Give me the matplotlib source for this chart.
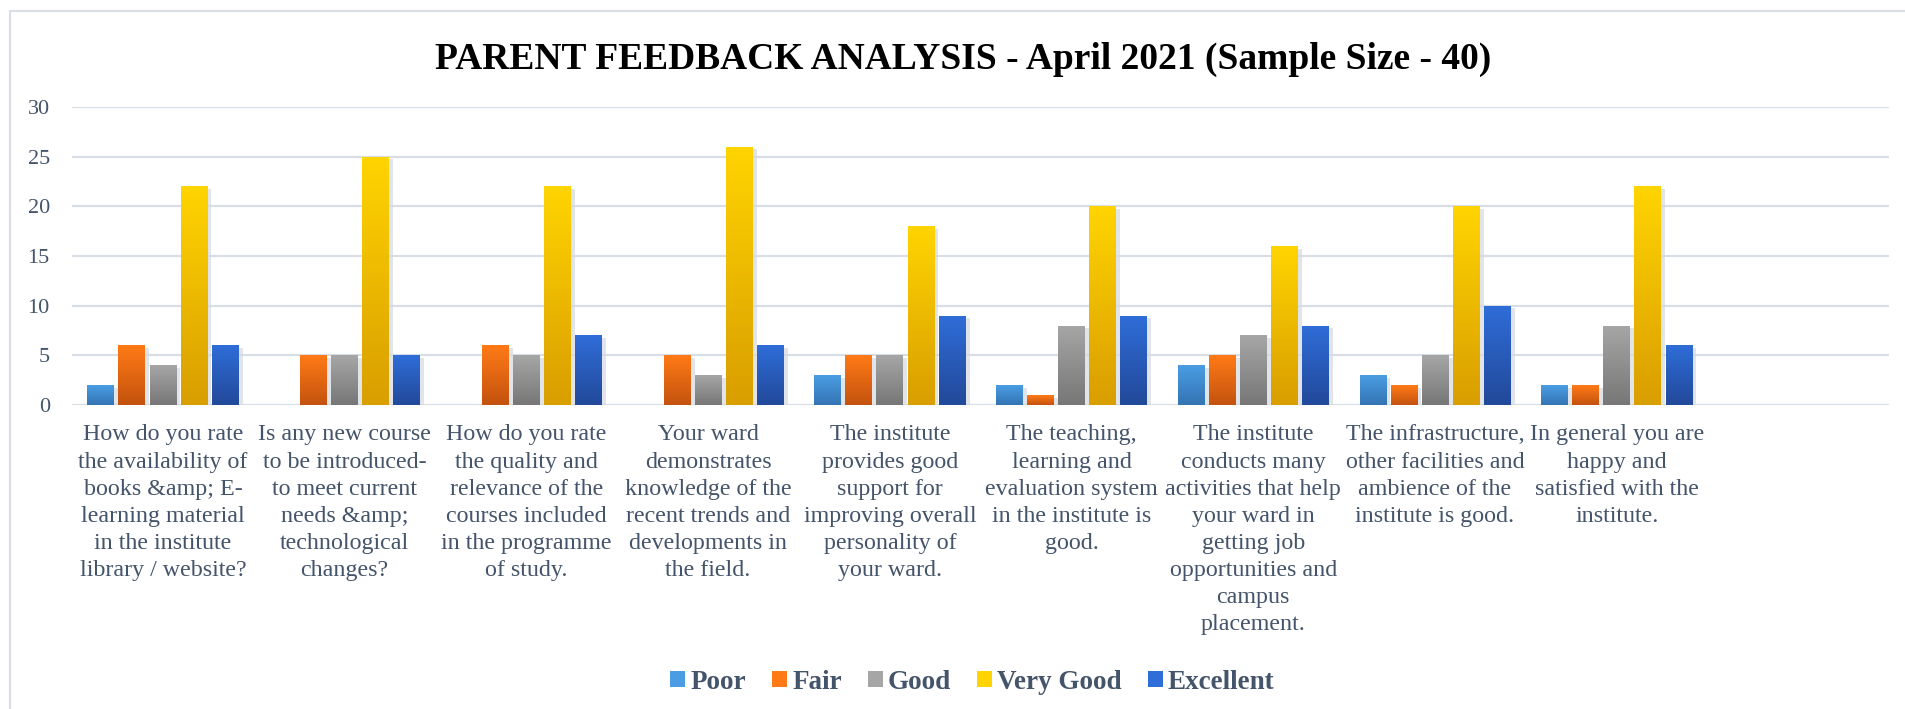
import numpy as np
import matplotlib
matplotlib.use("Agg")
import matplotlib.pyplot as plt
import matplotlib.patheffects as pe
from matplotlib.colors import LinearSegmentedColormap
from matplotlib.patches import Rectangle, Patch

questions = [
    "How do you rate\nthe availability of\nbooks &amp; E-\nlearning material\nin the institute\nlibrary / website?",
    "Is any new course\nto be introduced-\nto meet current\nneeds &amp;\ntechnological\nchanges?",
    "How do you rate\nthe quality and\nrelevance of the\ncourses included\nin the programme\nof study.",
    "Your ward\ndemonstrates\nknowledge of the\nrecent trends and\ndevelopments in\nthe field.",
    "The institute\nprovides good\nsupport for\nimproving overall\npersonality of\nyour ward.",
    "The teaching,\nlearning and\nevaluation system\nin the institute is\ngood.",
    "The institute\nconducts many\nactivities that help\nyour ward in\ngetting job\nopportunities and\ncampus\nplacement.",
    "The infrastructure,\nother facilities and\nambience of the\ninstitute is good.",
    "In general you are\nhappy and\nsatisfied with the\ninstitute.",
    "",
]
ratings = ["Poor", "Fair", "Good", "Very Good", "Excellent"]
poor = [2, 0, 0, 0, 3, 2, 4, 3, 2, 0]
fair = [6, 5, 6, 5, 5, 1, 5, 2, 2, 0]
good = [4, 5, 5, 3, 5, 8, 7, 5, 8, 0]
very_good = [22, 25, 22, 26, 18, 20, 16, 20, 22, 0]
excellent = [6, 5, 7, 6, 9, 9, 8, 10, 6, 0]
series = [poor, fair, good, very_good, excellent]

# (top colour, bottom colour) per rating
shades = [
    ("#4a9de3", "#3474b3"),
    ("#ff7a16", "#c4530f"),
    ("#a6a6a6", "#777777"),
    ("#ffd400", "#d99e00"),
    ("#2f6dd8", "#22499a"),
]
text_col = "#44546a"

plt.rcParams["font.family"] = ["Liberation Serif", "DejaVu Serif"]

fig = plt.figure(figsize=(19.05, 7.09), dpi=100)
fig.patches.append(Rectangle((10 / 1905, -0.05), 1.1, 1 - 11 / 709 + 0.05,
                             transform=fig.transFigure, fill=False,
                             edgecolor="#d9dde4", linewidth=1.5))
ax = fig.add_axes((0.0378, 0.4288, 0.954, 0.4203))

x = np.arange(len(questions))
slot = 0.171
width = 0.147
for i, (vals, (top, bottom)) in enumerate(zip(series, shades)):
    pos = x + (i - 2) * slot
    bars = ax.bar(pos, vals, width, color=bottom, zorder=3,
                  path_effects=[pe.SimplePatchShadow(offset=(3, -2), shadow_rgbFace="#d5d9e0", alpha=0.7),
                                pe.Normal()])
    cmap = LinearSegmentedColormap.from_list(f"g{i}", [bottom, top])
    grad = np.linspace(0, 1, 64).reshape(-1, 1)
    for b in bars:
        if b.get_height() <= 0:
            continue
        x0, y0 = b.get_x(), b.get_y()
        im = ax.imshow(grad, cmap=cmap, aspect="auto", origin="lower",
                       extent=(x0, x0 + b.get_width(), y0, y0 + b.get_height()),
                       zorder=4)
        im.set_clip_path(b)

ax.set_xlim(-0.5, len(questions) - 0.5)
ax.set_ylim(0, 30)
ax.set_yticks(range(0, 31, 5))
ax.set_xticks(x)
ax.set_xticklabels(questions, fontsize=17.3, color=text_col, linespacing=1.38, va="top")
ax.tick_params(axis="x", length=0, pad=14)
ax.tick_params(axis="y", length=0, pad=16, labelsize=16, labelcolor=text_col)
ax.grid(axis="y", color="#d9dee6", linewidth=1.6, zorder=0)
for s in ax.spines.values():
    s.set_visible(False)

fig.text(0.5055, 0.916, "PARENT FEEDBACK ANALYSIS - April 2021 (Sample Size - 40)",
         ha="center", va="center", fontsize=27, fontweight="bold", color="black")

handles = [Patch(facecolor=t, label=r) for r, (t, b) in zip(ratings, shades)]
fig.legend(handles=handles, loc="center", bbox_to_anchor=(0.5105, 0.038), ncol=5,
           frameon=False, handlelength=0.55, handleheight=0.55, handletextpad=0.2,
           columnspacing=0.95, prop={"size": 19.5, "weight": "bold"}, labelcolor=text_col)

fig.savefig("out.png", dpi=100)
